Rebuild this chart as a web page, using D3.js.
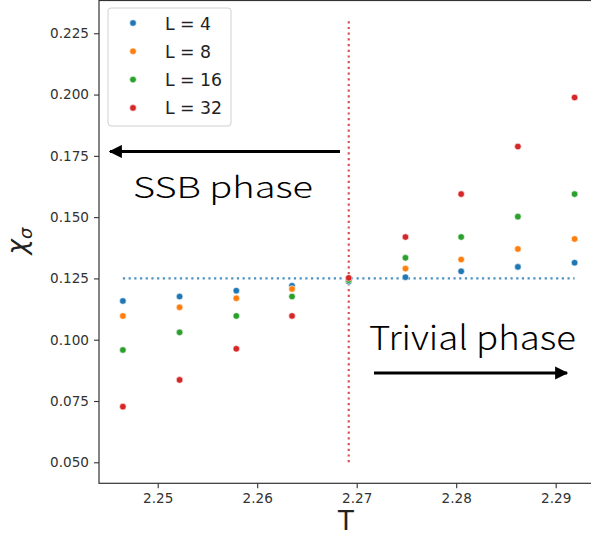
<!DOCTYPE html>
<html>
<head>
<meta charset="utf-8">
<script src="https://cdn.jsdelivr.net/npm/d3@7/dist/d3.min.js"></script>
<style>
  html, body { margin: 0; padding: 0; background: #fff; }
  svg { display: block; }
</style>
</head>
<body>
<svg id="chart" width="591" height="537"></svg>
<script>
// Temperatures around the critical point (Tc = 2.2692)
const temperatures = [2.2465, 2.2522, 2.2579, 2.2635, 2.2692, 2.2749, 2.2805, 2.2862, 2.2919];
const criticalT = 2.2692;
const exactExponent = 0.125;

// Scaling dimension estimates for each lattice size
const sizes = ["L = 4", "L = 8", "L = 16", "L = 32"];
const chiL4  = [0.1158, 0.1176, 0.1200, 0.1220, 0.1237, 0.1255, 0.1279, 0.1297, 0.1314];
const chiL8  = [0.1097, 0.1132, 0.1169, 0.1207, 0.1248, 0.1290, 0.1327, 0.1370, 0.1411];
const chiL16 = [0.0958, 0.1030, 0.1097, 0.1176, 0.1243, 0.1334, 0.1419, 0.1502, 0.1594];
const chiL32 = [0.0727, 0.0836, 0.0963, 0.1097, 0.1252, 0.1419, 0.1594, 0.1788, 0.1988];
const seriesValues = [chiL4, chiL8, chiL16, chiL32];
const colors = ["#1f77b4", "#ff7f0e", "#2ca02c", "#d62728"];

const xTicks = [2.25, 2.26, 2.27, 2.28, 2.29];
const yTicks = [0.050, 0.075, 0.100, 0.125, 0.150, 0.175, 0.200, 0.225];

const svg = d3.select("#chart");
const plotLeft = 99, plotRight = 593, plotTop = 0, plotBottom = 483.3;

const x = d3.scaleLinear().domain([2.2441, 2.29375]).range([plotLeft, plotRight]);
const y = d3.scaleLinear().domain([0.04143, 0.23857]).range([plotBottom, plotTop]);

const axisColor = "#333";
const tickFont = "'DejaVu Sans', sans-serif";

// Axes
const xAxis = svg.append("g")
  .attr("transform", `translate(0,${plotBottom})`)
  .call(d3.axisBottom(x).tickValues(xTicks).tickFormat(d3.format(".2f")).tickSize(5).tickPadding(5));
const yAxis = svg.append("g")
  .attr("transform", `translate(${plotLeft},0)`)
  .call(d3.axisLeft(y).tickValues(yTicks).tickFormat(d3.format(".3f")).tickSize(5).tickPadding(5));
[xAxis, yAxis].forEach(g => {
  g.select(".domain").remove();
  g.selectAll(".tick line").attr("stroke", axisColor).attr("stroke-width", 1.1);
  g.selectAll(".tick text").attr("fill", "#333").style("font-family", tickFont).style("font-size", "13.6px");
});

// Frame
svg.append("rect")
  .attr("x", plotLeft).attr("y", plotTop + 0.5)
  .attr("width", plotRight - plotLeft).attr("height", plotBottom - plotTop - 0.5)
  .attr("fill", "none").attr("stroke", axisColor).attr("stroke-width", 1.2);

// Reference lines
svg.append("line")
  .attr("x1", x(temperatures[0])).attr("x2", x(temperatures[temperatures.length - 1]))
  .attr("y1", y(exactExponent)).attr("y2", y(exactExponent))
  .attr("stroke", "#1f77b4").attr("stroke-width", 2.2)
  .attr("stroke-dasharray", "2.2,3.5").attr("opacity", 0.8);
svg.append("line")
  .attr("x1", x(criticalT)).attr("x2", x(criticalT))
  .attr("y1", y(0.050)).attr("y2", y(0.2305))
  .attr("stroke", "#d62728").attr("stroke-width", 2.2)
  .attr("stroke-dasharray", "2.2,3.5").attr("opacity", 0.8);

// Scatter points
seriesValues.forEach((vals, i) => {
  svg.append("g").selectAll("circle")
    .data(vals)
    .join("circle")
    .attr("cx", (d, j) => x(temperatures[j]))
    .attr("cy", d => y(d))
    .attr("r", 3.3)
    .attr("fill", colors[i])
    .attr("stroke", "#fff")
    .attr("stroke-width", 0.6);
});

// Axis labels
svg.append("text")
  .attr("x", (plotLeft + plotRight) / 2).attr("y", 530)
  .attr("text-anchor", "middle")
  .style("font-family", tickFont).style("font-size", "26px").attr("fill", "#222")
  .text("T");

const yl = svg.append("text")
  .attr("transform", "translate(26,241) rotate(-90)")
  .attr("text-anchor", "middle")
  .style("font-family", tickFont).style("font-size", "26px").attr("fill", "#222");
yl.append("tspan").style("font-style", "italic").text("χ");
yl.append("tspan").attr("dy", 6).style("font-size", "18px").style("font-style", "italic").text("σ");

// Legend
const legend = svg.append("g");
legend.append("rect")
  .attr("x", 108).attr("y", 8).attr("width", 123).attr("height", 118)
  .attr("rx", 3).attr("fill", "#fff").attr("fill-opacity", 0.8)
  .attr("stroke", "#d0d0d0").attr("stroke-width", 1);
sizes.forEach((s, i) => {
  const cy = 23 + i * 28.3;
  legend.append("circle").attr("cx", 133).attr("cy", cy).attr("r", 3.3)
    .attr("fill", colors[i]).attr("stroke", "#fff").attr("stroke-width", 0.6);
  legend.append("text").attr("x", 165).attr("y", cy + 6.5)
    .style("font-family", tickFont).style("font-size", "17.3px").attr("fill", "#222")
    .text(s);
});

// Phase annotations
svg.append("defs").append("marker")
  .attr("id", "head").attr("viewBox", "0 0 10 10")
  .attr("refX", 9).attr("refY", 5)
  .attr("markerWidth", 5).attr("markerHeight", 4.4)
  .attr("markerUnits", "strokeWidth").attr("orient", "auto")
  .append("path").attr("d", "M0,0 L10,5 L0,10 z").attr("fill", "#000");

svg.append("line")
  .attr("x1", 340).attr("x2", 110).attr("y1", 151.5).attr("y2", 151.5)
  .attr("stroke", "#000").attr("stroke-width", 3).attr("marker-end", "url(#head)");
svg.append("line")
  .attr("x1", 374).attr("x2", 567).attr("y1", 373).attr("y2", 373)
  .attr("stroke", "#000").attr("stroke-width", 3).attr("marker-end", "url(#head)");

const annFont = "'Noto Sans CJK SC', 'Noto Sans', sans-serif";
svg.append("text")
  .attr("x", 133).attr("y", 198)
  .attr("textLength", 180).attr("lengthAdjust", "spacingAndGlyphs")
  .style("font-family", annFont).style("font-size", "29px").style("font-weight", 300).attr("fill", "#000")
  .text("SSB phase");
svg.append("text")
  .attr("x", 369).attr("y", 350)
  .attr("textLength", 207).attr("lengthAdjust", "spacingAndGlyphs")
  .style("font-family", annFont).style("font-size", "33px").style("font-weight", 300).attr("fill", "#000")
  .text("Trivial phase");
</script>
</body>
</html>
